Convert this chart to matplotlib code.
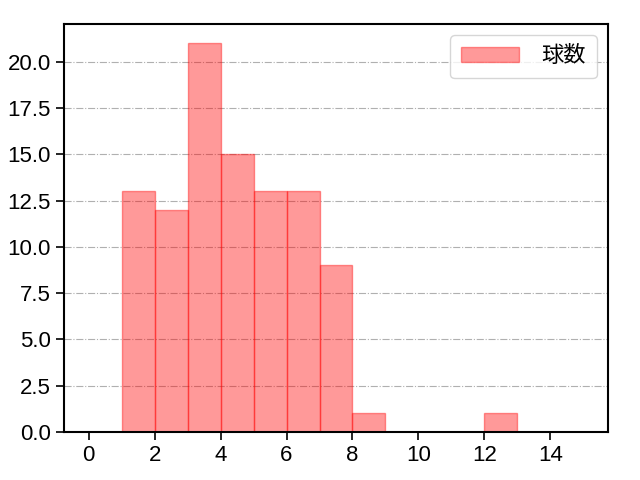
import numpy as np
import matplotlib
matplotlib.use('Agg')
import matplotlib.pyplot as plt

plt.rcParams['font.family'] = ['Liberation Sans', 'Noto Sans CJK JP']
plt.rcParams['font.size'] = 16
plt.rcParams['axes.linewidth'] = 1.5
plt.rcParams['xtick.major.width'] = 1.2
plt.rcParams['ytick.major.width'] = 1.2
plt.rcParams['xtick.major.size'] = 6
plt.rcParams['ytick.major.size'] = 6

# 球数ごとの件数 (ビン左端 -> 件数)
bin_edges = np.arange(0, 16)
counts = [0, 13, 12, 21, 15, 13, 13, 9, 1, 0, 0, 0, 1, 0, 0]

fig, ax = plt.subplots(figsize=(6.4, 4.8), dpi=100)
ax.hist(bin_edges[:-1], bins=bin_edges, weights=counts,
        color='red', alpha=0.4, edgecolor='red', linewidth=1, label='球数')
ax.grid(axis='y', linestyle='-.', color='#b0b0b0')
ax.set_axisbelow(True)
ax.set_xticks([0, 2, 4, 6, 8, 10, 12, 14])
ax.legend(loc='upper right', handlelength=2.6, handletextpad=1.0, borderpad=0.5)
fig.subplots_adjust(left=0.1, right=0.95, top=0.95, bottom=0.1)
fig.savefig('out.png')
